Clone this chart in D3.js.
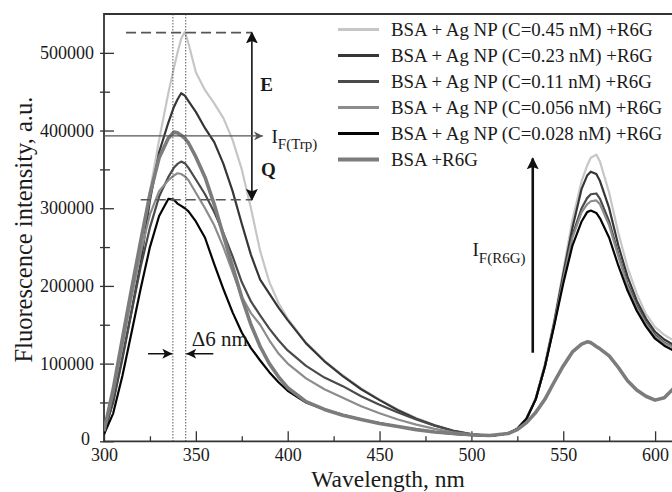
<!DOCTYPE html>
<html>
<head>
<meta charset="utf-8">
<script src="https://cdn.jsdelivr.net/npm/d3@7/dist/d3.min.js"></script>
<style>
  body { margin: 0; background: #fff; }
  svg { display: block; }
  text { font-family: "Liberation Serif", "Times New Roman", serif; fill: #1a1a1a; }
</style>
</head>
<body>
<svg id="chart" width="672" height="492"></svg>
<script>
// wavelength grid (nm) shared by all spectra
const wavelengths = [300, 305, 310, 315, 320, 325, 330, 335, 338, 340, 342, 344, 346, 350, 355, 360, 365, 370, 375, 380,
  385, 390, 395, 400, 410, 420, 430, 440, 450, 460, 470, 480, 490, 500, 510, 520, 525, 530, 535, 540,
  545, 550, 555, 560, 563, 565, 568, 570, 575, 580, 585, 590, 595, 600, 605, 610];

// fluorescence intensity, a.u.
const agnp045 = [14000, 66000, 128000, 192000, 257000, 322000, 388000, 448000, 480000, 500000, 518000, 527000, 512000, 475000, 452000, 435000, 416000, 388000, 350000, 300000,
  245000, 205000, 178000, 158000, 127000, 104000, 85000, 68000, 54000, 41000, 30000, 21000, 14000, 9500, 7000, 10000, 17000, 30000, 56000, 100000,
  155000, 220000, 285000, 335000, 355000, 365000, 369000, 360000, 320000, 268000, 224000, 190000, 164000, 147000, 137000, 130000];
const agnp023 = [11000, 52000, 108000, 168000, 230000, 310000, 372000, 410000, 430000, 440000, 448000, 445000, 438000, 424000, 403000, 385000, 357000, 322000, 280000, 240000,
  208000, 190000, 172000, 156000, 126000, 103000, 84000, 67000, 53000, 40000, 29000, 20500, 13500, 9000, 7000, 10000, 16000, 29000, 54000, 97000,
  152000, 215000, 275000, 325000, 342000, 347000, 344000, 335000, 300000, 252000, 212000, 181000, 158000, 141000, 131000, 124000];
const agnp011 = [11000, 50000, 106000, 166000, 225000, 275000, 315000, 340000, 352000, 357000, 360000, 358000, 352000, 337000, 318000, 295000, 268000, 238000, 205000, 180000,
  162000, 145000, 130000, 117000, 97000, 82000, 71000, 58000, 47000, 37000, 28000, 20000, 13500, 9000, 7000, 10000, 16000, 29000, 54000, 96000,
  150000, 210000, 265000, 300000, 313000, 318000, 319000, 312000, 283000, 241000, 203000, 175000, 153000, 137000, 127000, 121000];
const agnp0056 = [13000, 62000, 122000, 185000, 243000, 292000, 322000, 336000, 342000, 345000, 344000, 341000, 336000, 320000, 300000, 278000, 250000, 218000, 186000, 165000,
  150000, 130000, 113000, 100000, 81000, 67000, 56000, 45000, 36000, 28000, 21500, 16000, 11500, 8500, 7000, 10000, 16000, 29000, 54000, 96000,
  150000, 208000, 262000, 295000, 305000, 309000, 310000, 305000, 278000, 238000, 200000, 172000, 151000, 135000, 126000, 121000];
const agnp0028 = [9000, 36000, 84000, 140000, 197000, 250000, 290000, 312000, 311000, 306000, 303000, 300000, 296000, 283000, 262000, 228000, 196000, 166000, 140000, 120000,
  104000, 89000, 76000, 65000, 50000, 41000, 34000, 28000, 23500, 19000, 15000, 12000, 9500, 8000, 7000, 10000, 16000, 29000, 54000, 96000,
  148000, 203000, 252000, 283000, 295000, 297000, 294000, 287000, 262000, 226000, 194000, 168000, 148000, 132000, 123000, 117000];
const bsaOnly = [13000, 67000, 132000, 196000, 258000, 318000, 365000, 390000, 398000, 397000, 394000, 390000, 384000, 366000, 340000, 305000, 265000, 225000, 185000, 150000,
  122000, 100000, 83000, 69000, 51000, 41000, 33500, 28000, 23000, 19000, 15000, 12000, 10000, 8500, 7500, 10000, 15000, 24000, 37000, 54000,
  76000, 97000, 115000, 125000, 128000, 127000, 122000, 119000, 110000, 95000, 78000, 66000, 58000, 53000, 56000, 68000];

const seriesLabels = [
  "BSA + Ag NP (C=0.45 nM) +R6G",
  "BSA + Ag NP (C=0.23 nM) +R6G",
  "BSA + Ag NP (C=0.11 nM) +R6G",
  "BSA + Ag NP (C=0.056 nM) +R6G",
  "BSA + Ag NP (C=0.028 nM) +R6G",
  "BSA +R6G"
];
const seriesValues = [agnp045, agnp023, agnp011, agnp0056, agnp0028, bsaOnly];
const seriesColors = ["#c6c6c6", "#363636", "#4a4a4a", "#8c8c8c", "#050505", "#7c7c7c"];
const seriesWidths = [2.2, 2.2, 2.2, 2.2, 2.2, 3.6];

const xTicks = [300, 350, 400, 450, 500, 550, 600];
const xMinor = [325, 375, 425, 475, 525, 575];
const yTicks = [0, 100000, 200000, 300000, 400000, 500000];
const yMinor = [50000, 150000, 250000, 350000, 450000];

const svg = d3.select("#chart");
const mLeft = 104, mRight = 672, mTop = 14, mBottom = 441.3;

const x = d3.scaleLinear().domain([300, 609.2]).range([mLeft, mRight]);
const y = d3.scaleLinear().domain([0, 550000]).range([mBottom, mTop]);

svg.append("defs").html(`
  <clipPath id="plot"><rect x="${mLeft}" y="${mTop}" width="${mRight - mLeft}" height="${mBottom - mTop}"/></clipPath>
  <marker id="headBlack" viewBox="0 0 10 10" refX="10" refY="5" markerWidth="10" markerHeight="10" markerUnits="userSpaceOnUse" orient="auto-start-reverse">
    <path d="M0,0 L10,5 L0,10 L2.5,5 Z" fill="#111"/></marker>
  <marker id="headBig" viewBox="0 0 10 10" refX="9" refY="5" markerWidth="12" markerHeight="14" markerUnits="userSpaceOnUse" orient="auto-start-reverse">
    <path d="M0,0 L10,5 L0,10 L2,5 Z" fill="#111"/></marker>
  <marker id="headGray" viewBox="0 0 10 10" refX="10" refY="5" markerWidth="10" markerHeight="9" markerUnits="userSpaceOnUse" orient="auto">
    <path d="M0,0 L10,5 L0,10 L3,5 Z" fill="#555"/></marker>
`);

// ---- axes ----
const axisColor = "#333";
function styleAxis(g) {
  g.selectAll(".domain").remove();
  g.selectAll("line").attr("stroke", axisColor).attr("stroke-width", 1.3);
  g.selectAll("text").attr("font-size", 18).attr("fill", "#1a1a1a")
    .attr("font-family", '"Liberation Serif", "Times New Roman", serif');
}

svg.append("g").attr("transform", `translate(0,${mBottom})`)
  .call(d3.axisBottom(x).tickValues(xTicks).tickSizeInner(-10).tickSizeOuter(0).tickPadding(7))
  .call(styleAxis);
svg.append("g").attr("transform", `translate(0,${mBottom})`)
  .call(d3.axisBottom(x).tickValues(xMinor).tickSizeInner(-5).tickSizeOuter(0).tickFormat(""))
  .call(styleAxis);

svg.append("g").attr("transform", `translate(${mLeft},0)`)
  .call(d3.axisLeft(y).tickValues(yTicks).tickSizeInner(4).tickSizeOuter(0).tickPadding(6).tickFormat(d3.format("d")))
  .call(styleAxis)
  .call(g => g.selectAll(".tick").filter(d => d === 0).select("text").attr("dx", -4).attr("dy", "0.2em"));
svg.append("g").attr("transform", `translate(${mLeft},0)`)
  .call(d3.axisLeft(y).tickValues(yTicks).tickSizeInner(-10).tickSizeOuter(0).tickFormat(""))
  .call(styleAxis);
svg.append("g").attr("transform", `translate(${mLeft},0)`)
  .call(d3.axisLeft(y).tickValues(yMinor).tickSizeInner(4).tickSizeOuter(0).tickFormat(""))
  .call(styleAxis);
svg.append("g").attr("transform", `translate(${mLeft},0)`)
  .call(d3.axisLeft(y).tickValues(yMinor).tickSizeInner(-6).tickSizeOuter(0).tickFormat(""))
  .call(styleAxis);

// frame: left, bottom, top
svg.append("path")
  .attr("d", `M${mRight},${mTop} H${mLeft} V${mBottom} H${mRight}`)
  .attr("fill", "none").attr("stroke", axisColor).attr("stroke-width", 1.8);

// axis titles
svg.append("text")
  .attr("x", 388).attr("y", 487)
  .attr("text-anchor", "middle").attr("font-size", 23.5)
  .text("Wavelength, nm");
svg.append("text")
  .attr("transform", `translate(32,${(mTop + mBottom) / 2 + 2}) rotate(-90)`)
  .attr("text-anchor", "middle").attr("font-size", 24.5)
  .text("Fluorescence intensity, a.u.");

// ---- annotation guides ----
const ann = svg.append("g");
[337.5, 344.5].forEach(w => {
  ann.append("line")
    .attr("x1", x(w)).attr("x2", x(w)).attr("y1", mTop).attr("y2", mBottom)
    .attr("stroke", "#444").attr("stroke-width", 0.9).attr("stroke-dasharray", "1.5,1.5");
});
ann.append("line")
  .attr("x1", x(312)).attr("x2", x(380.5)).attr("y1", y(526000)).attr("y2", y(526000))
  .attr("stroke", "#555").attr("stroke-width", 1.6).attr("stroke-dasharray", "10,5");
ann.append("line")
  .attr("x1", x(320)).attr("x2", x(380.5)).attr("y1", y(311000)).attr("y2", y(311000))
  .attr("stroke", "#555").attr("stroke-width", 1.6).attr("stroke-dasharray", "10,5");

// ---- spectra ----
const line = d3.line().x((d, i) => x(wavelengths[i])).y(d => y(d));
svg.append("g").attr("clip-path", "url(#plot)")
  .selectAll("path")
  .data(seriesValues)
  .join("path")
  .attr("d", d => line(d))
  .attr("fill", "none")
  .attr("stroke", (d, i) => seriesColors[i])
  .attr("stroke-width", (d, i) => seriesWidths[i])
  .attr("stroke-linejoin", "round");

// ---- annotations on top ----
ann.raise();
// E / Q double arrow
svg.append("line")
  .attr("x1", x(380.5)).attr("x2", x(380.5)).attr("y1", y(526000)).attr("y2", y(311000))
  .attr("stroke", "#111").attr("stroke-width", 1.6)
  .attr("marker-start", "url(#headBig)").attr("marker-end", "url(#headBig)");
svg.append("text").attr("x", x(385)).attr("y", y(450800))
  .attr("font-size", 19).attr("font-weight", "bold").text("E");
svg.append("text").attr("x", x(385.5)).attr("y", y(341000))
  .attr("font-size", 19).attr("font-weight", "bold").text("Q");

// I_F(Trp) arrow
svg.append("line")
  .attr("x1", mLeft).attr("x2", x(386.5)).attr("y1", y(393000)).attr("y2", y(393000))
  .attr("stroke", "#555").attr("stroke-width", 1.3).attr("marker-end", "url(#headGray)");
const trp = svg.append("text").attr("x", x(391.2)).attr("y", y(384000)).attr("font-size", 19);
trp.append("tspan").text("I");
trp.append("tspan").attr("dy", 6).attr("font-size", 15).text("F(Trp)");

// Δ6 nm marker
svg.append("line")
  .attr("x1", x(324)).attr("x2", x(337.2)).attr("y1", y(112700)).attr("y2", y(112700))
  .attr("stroke", "#111").attr("stroke-width", 1.5).attr("marker-end", "url(#headBlack)");
svg.append("line")
  .attr("x1", x(359.5)).attr("x2", x(344.8)).attr("y1", y(112700)).attr("y2", y(112700))
  .attr("stroke", "#111").attr("stroke-width", 1.5).attr("marker-end", "url(#headBlack)");
svg.append("text").attr("x", x(347.8)).attr("y", y(122700)).attr("font-size", 21).text("\u03946 nm");

// I_F(R6G) arrow
svg.append("line")
  .attr("x1", x(533.4)).attr("x2", x(533.4)).attr("y1", y(114000)).attr("y2", y(364000))
  .attr("stroke", "#111").attr("stroke-width", 2.6).attr("marker-end", "url(#headBig)");
const r6g = svg.append("text").attr("x", x(500.6)).attr("y", y(238000)).attr("font-size", 19);
r6g.append("tspan").text("I");
r6g.append("tspan").attr("dy", 7).attr("font-size", 15).text("F(R6G)");

// ---- legend ----
const legend = svg.append("g").attr("transform", "translate(338,29.5)");
const rows = legend.selectAll("g").data(seriesLabels).join("g")
  .attr("transform", (d, i) => `translate(0,${i * 26})`);
rows.append("line")
  .attr("x1", 0).attr("x2", 41).attr("y1", 0).attr("y2", 0)
  .attr("stroke", (d, i) => seriesColors[i])
  .attr("stroke-width", (d, i) => seriesWidths[i] + 0.6);
rows.append("text")
  .attr("x", 53).attr("y", 0).attr("dy", "0.35em")
  .attr("font-size", 18.9)
  .text(d => d);
</script>
</body>
</html>
